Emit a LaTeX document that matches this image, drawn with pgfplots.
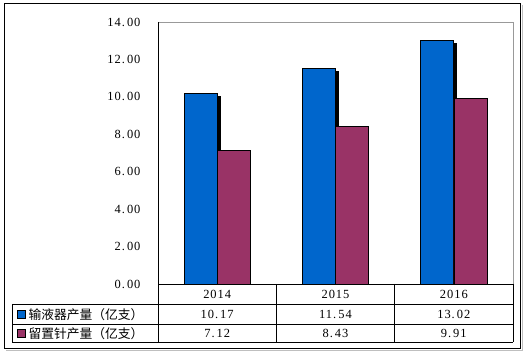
\documentclass[border=0pt]{standalone}
\usepackage{pgfplots}
\pgfplotsset{compat=1.18}
\usepackage{fontspec}
\setmainfont{Liberation Serif}
\newfontfamily\numfont{Liberation Serif}[LetterSpace=8]
\newfontfamily\cjk{Noto Sans CJK SC}
\usetikzlibrary{shadows}
\definecolor{cblue}{HTML}{0066CC}
\definecolor{cmaroon}{HTML}{993366}
\newcommand\dd{.\hspace{2bp}}
\begin{document}
\begin{tikzpicture}
\useasboundingbox (0,0) rectangle (525bp,354bp);
\begin{axis}[
  at={(158bp,70bp)}, anchor=south west,
  width=355bp, height=262bp, scale only axis,
  xmin=-0.5, xmax=2.5, ymin=0, ymax=14,
  ybar, bar width=33bp,
  axis line style={draw=none},
  major tick length=0pt,
  xtick=\empty,
  ytick={0,2,4,6,8,10,12,14},
  yticklabels={0\dd00,2\dd00,4\dd00,6\dd00,8\dd00,10\dd00,12\dd00,14\dd00},
  yticklabel style={font=\numfont\fontsize{12.5}{14}\selectfont, anchor=east, xshift=-14bp},
]
\addplot[fill=cblue, draw=black, line width=0.6bp, bar shift=-16.6bp,
  drop shadow={shadow xshift=3bp, shadow yshift=-3bp, fill=black, opacity=1}]
  coordinates {(0,10.17) (1,11.54) (2,13.02)};
\addplot[fill=cmaroon, draw=black, line width=0.6bp, bar shift=16.6bp]
  coordinates {(0,7.12) (1,8.43) (2,9.91)};
\end{axis}
\begin{scope}[x=1bp,y=-1bp,yshift=354bp]
% plot-area frame
\draw[gray!80, line width=0.8bp] (158,22) -- (513,22) -- (513,284);
\draw[black, line width=0.8bp] (158,22) -- (158,342);
% data table
\draw[black, line width=0.8bp] (158,284) -- (513,284);
\draw[black, line width=0.8bp] (12,304) -- (513,304);
\draw[black, line width=0.8bp] (12,324) -- (513,324);
\draw[black, line width=0.8bp] (12,342) -- (513,342);
\draw[black, line width=0.8bp] (12,304) -- (12,342);
\draw[black, line width=0.8bp] (276.3,284) -- (276.3,342);
\draw[black, line width=0.8bp] (394.7,284) -- (394.7,342);
\draw[black, line width=0.8bp] (513,284) -- (513,342);
\begin{scope}[every node/.style={font=\numfont\fontsize{12.5}{14}\selectfont, inner sep=0pt}]
\node at (217.2,294.5) {2014};
\node at (335.5,294.5) {2015};
\node at (453.8,294.5) {2016};
\node at (217.2,314.5) {10\dd17};
\node at (335.5,314.5) {11\dd54};
\node at (453.8,314.5) {13\dd02};
\node at (217.2,333.5) {7\dd12};
\node at (335.5,333.5) {8\dd43};
\node at (453.8,333.5) {9\dd91};
\end{scope}
\draw[black, fill=cblue, line width=0.6bp] (17,310) rectangle (25,318);
\draw[black, fill=cmaroon, line width=0.6bp] (17,329) rectangle (25,337);
\node[anchor=west, inner sep=0pt, font=\cjk\fontsize{12.8}{14}\selectfont] at (28.5,314.5) {输液器产量（亿支）};
\node[anchor=west, inner sep=0pt, font=\cjk\fontsize{12.8}{14}\selectfont] at (28.5,333.5) {留置针产量（亿支）};
% outer frame
\draw[black, line width=0.8bp] (4,3) rectangle (520,348);
\draw[gray!50, line width=0.8bp] (6,350) -- (522,350) -- (522,5);
\end{scope}
\end{tikzpicture}
\end{document}
